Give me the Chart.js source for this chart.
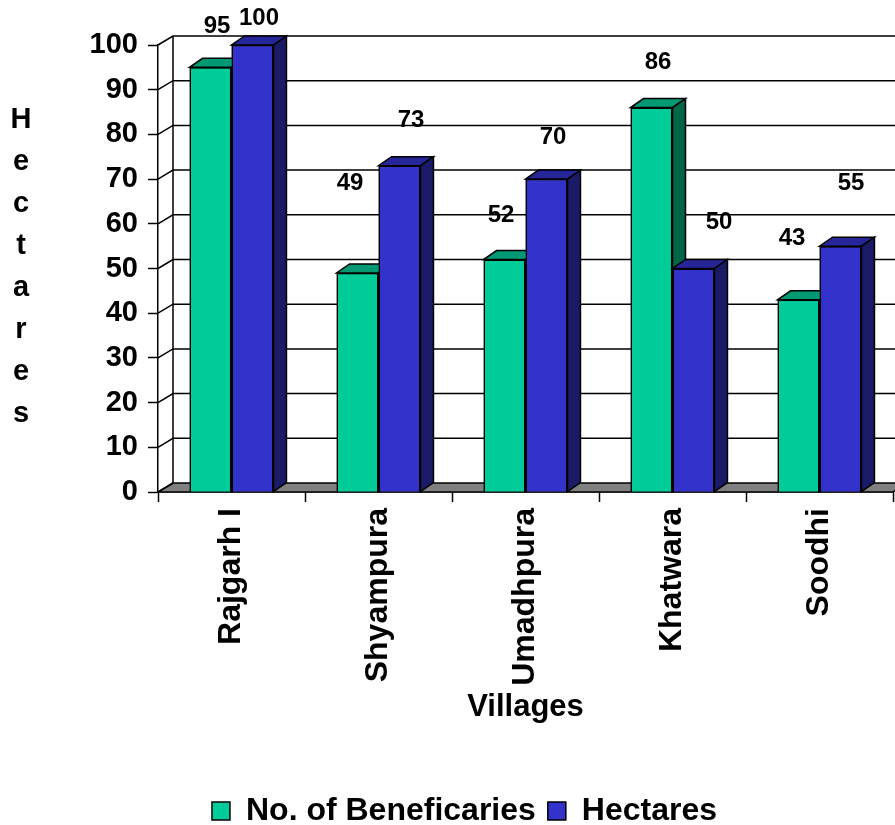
<!DOCTYPE html>
<html>
<head>
<meta charset="utf-8">
<script src="https://cdn.jsdelivr.net/npm/chart.js@4.4.0/dist/chart.umd.min.js"></script>
<style>
  body { margin: 0; background: #fff; }
  canvas { display: block; }
</style>
</head>
<body>
<canvas id="chart" width="895" height="825"></canvas>
<script>
const villages = ["Rajgarh I", "Shyampura", "Umadhpura", "Khatwara", "Soodhi"];
const beneficiaries = [95, 49, 52, 86, 43];
const hectares = [100, 73, 70, 50, 55];
const yMin = 0, yMax = 100, yStep = 10;
const yTitle = "Hectares";
const xTitle = "Villages";

const FONT = "'Liberation Sans', Arial, sans-serif";

// 3d look: back wall offset and bar depth (px)
const WALL_DX = 15, WALL_DY = 9;
const BAR_DX = 13, BAR_DY = 9;

// nudges for the value labels, the way excel scattered them
const labelNudge = [
  [[0, -36], [-14, -85], [-10, -40], [0, -41], [-13, -57]],
  [[0, -22], [5, -41], [0, -37], [19, -42], [4, -58]]
];

const faceColors = [
  { top: "#009973", side: "#006648" },
  { top: "#262699", side: "#1a1a66" }
];

function poly(ctx, pts) {
  ctx.beginPath();
  ctx.moveTo(pts[0][0], pts[0][1]);
  for (let i = 1; i < pts.length; i++) ctx.lineTo(pts[i][0], pts[i][1]);
  ctx.closePath();
  ctx.fill();
  ctx.stroke();
}

const box3d = {
  id: "box3d",
  beforeDatasetsDraw(chart) {
    const { ctx, chartArea: a, scales: { y } } = chart;
    ctx.save();
    ctx.lineWidth = 1.5;
    ctx.strokeStyle = "#000";
    // floor
    ctx.fillStyle = "#808080";
    poly(ctx, [[a.left, a.bottom], [a.right, a.bottom],
      [a.right + WALL_DX, a.bottom - WALL_DY], [a.left + WALL_DX, a.bottom - WALL_DY]]);
    // side wall diagonals + back wall grid
    y.ticks.forEach(t => {
      const py = y.getPixelForValue(t.value);
      ctx.beginPath();
      ctx.moveTo(a.left, py);
      ctx.lineTo(a.left + WALL_DX, py - WALL_DY);
      if (t.value !== yMin) ctx.lineTo(a.right + WALL_DX, py - WALL_DY);
      ctx.stroke();
    });
    ctx.beginPath();
    ctx.moveTo(a.left + WALL_DX, a.top - WALL_DY);
    ctx.lineTo(a.left + WALL_DX, a.bottom - WALL_DY);
    ctx.stroke();
    ctx.restore();
  },
  afterDatasetsDraw(chart) {
    const ctx = chart.ctx;
    const metas = chart.data.datasets.map((ds, i) => chart.getDatasetMeta(i));
    // go category by category, left bar first, so each bar hides the one behind it
    villages.forEach((v, j) => {
      metas.forEach((meta, i) => {
        const bar = meta.data[j];
        const c = faceColors[i];
        bar.draw(ctx);
        const { x, y, base, width } = bar.getProps(["x", "y", "base", "width"], true);
        const x0 = x - width / 2, x1 = x + width / 2;
        ctx.save();
        ctx.lineWidth = 1.5;
        ctx.strokeStyle = "#000";
        ctx.fillStyle = c.top;
        poly(ctx, [[x0, y], [x1, y], [x1 + BAR_DX, y - BAR_DY], [x0 + BAR_DX, y - BAR_DY]]);
        ctx.fillStyle = c.side;
        poly(ctx, [[x1, y], [x1 + BAR_DX, y - BAR_DY], [x1 + BAR_DX, base - BAR_DY], [x1, base]]);
        ctx.restore();
      });
    });
  },
  afterDraw(chart) {
    const ctx = chart.ctx;
    ctx.save();
    ctx.fillStyle = "#000";
    ctx.textAlign = "center";
    ctx.textBaseline = "middle";
    ctx.font = "bold 24px " + FONT;
    chart.data.datasets.forEach((ds, i) => {
      chart.getDatasetMeta(i).data.forEach((bar, j) => {
        const [dx, dy] = labelNudge[i][j];
        ctx.fillText(ds.data[j], bar.x + BAR_DX / 2 + dx, bar.y - BAR_DY / 2 + dy);
      });
    });
    // stacked y title
    ctx.textBaseline = "alphabetic";
    ctx.font = "bold 29px " + FONT;
    [...yTitle].forEach((ch, k) => ctx.fillText(ch, 21, 128 + 42 * k));
    ctx.restore();
  }
};

const boldFont = size => ({ family: FONT, size: size, weight: "bold" });

new Chart(document.getElementById("chart"), {
  type: "bar",
  data: {
    labels: villages,
    datasets: [
      { label: "No. of Beneficaries", data: beneficiaries, backgroundColor: "#00cc99" },
      { label: "Hectares", data: hectares, backgroundColor: "#3333cc" }
    ]
  },
  options: {
    responsive: false,
    animation: false,
    datasets: {
      bar: {
        borderColor: "#000",
        borderWidth: 1.5,
        categoryPercentage: 0.571,
        barPercentage: 1,
        clip: false
      }
    },
    layout: { padding: { left: 36, right: 2, top: 45, bottom: -12 } },
    plugins: {
      legend: {
        position: "bottom",
        labels: {
          font: boldFont(32),
          color: "#000",
          boxWidth: 18,
          boxHeight: 18,
          padding: 12
        }
      },
      tooltip: { enabled: false }
    },
    scales: {
      x: {
        grid: { offset: true, drawOnChartArea: false, tickLength: 10, tickColor: "#000", tickWidth: 1.5 },
        border: { color: "#000", width: 1.5 },
        ticks: { font: boldFont(32), color: "#000", minRotation: 90, maxRotation: 90, autoSkip: false, padding: 6 },
        title: { display: true, text: xTitle, font: boldFont(31), color: "#000", padding: { top: 4, bottom: 57 } },
        afterFit: s => { s.height = 291; }
      },
      y: {
        min: yMin,
        max: yMax,
        ticks: { stepSize: yStep, font: boldFont(29), color: "#000", padding: 10 },
        grid: { drawOnChartArea: false, tickLength: 10, tickColor: "#000", tickWidth: 1.5 },
        border: { color: "#000", width: 1.5 },
        afterFit: s => { s.width = 122; }
      }
    }
  },
  plugins: [box3d]
});
</script>
</body>
</html>
